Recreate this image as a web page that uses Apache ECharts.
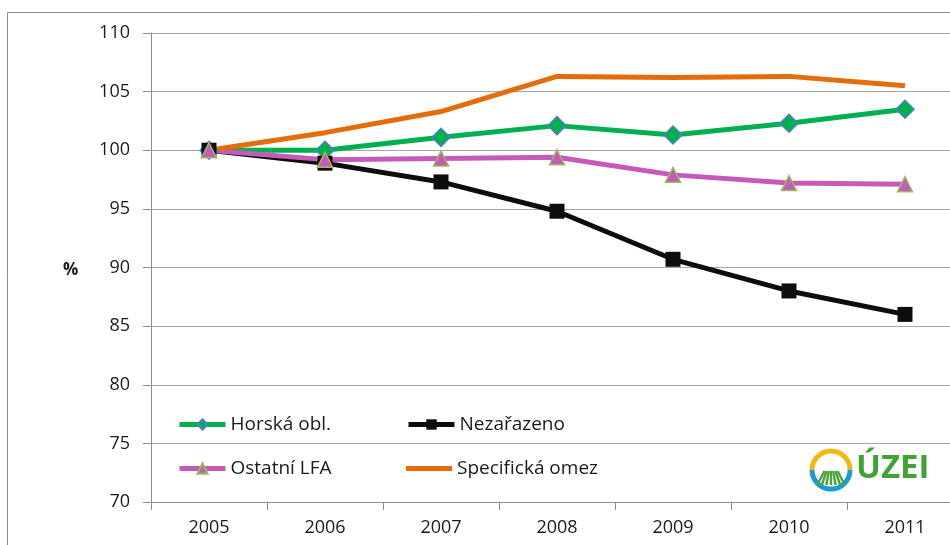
<!DOCTYPE html>
<html>
<head>
<meta charset="utf-8">
<script src="https://cdn.jsdelivr.net/npm/echarts@6/dist/echarts.min.js"></script>
<style>
  html, body { margin: 0; padding: 0; background: #fff; }
  #chart { width: 950px; height: 545px; }
</style>
</head>
<body>
<div id="chart"></div>
<script>
// data
const years = ['2005', '2006', '2007', '2008', '2009', '2010', '2011'];
const horska = [100, 100.0, 101.1, 102.1, 101.3, 102.3, 103.5];
const nezarazeno = [100, 98.9, 97.3, 94.8, 90.7, 88.0, 86.0];
const ostatniLfa = [100, 99.2, 99.3, 99.4, 97.9, 97.2, 97.1];
const specificka = [100, 101.5, 103.3, 106.3, 106.2, 106.3, 105.5];
const yTicks = { min: 70, max: 110, step: 5 };

const FONT = '"Open Sans", "Noto Sans", sans-serif';
const chart = echarts.init(document.getElementById('chart'));

const legendText = { color: '#1a1a1a', fontSize: 19, fontFamily: FONT };

// one legend per item so the two columns line up like the original
function legendAt(name, left, top, extra) {
  return Object.assign({
    data: [name],
    left: left,
    top: top,
    padding: 0,
    itemWidth: 46,
    itemHeight: 13,
    itemGap: 0,
    lineStyle: { width: 5 },
    textStyle: legendText,
    selectedMode: false
  }, extra || {});
}

// little UZEI stamp, drawn as graphics
const cx = 831, cy = 470, r = 19;
const stripes = [];
for (let i = -3; i <= 3; i++) {
  stripes.push({
    type: 'line',
    shape: { x1: cx + i * 2.2, y1: cy + 1, x2: cx + i * 4.6, y2: cy + 15 },
    style: { stroke: '#4aa63c', lineWidth: 2.4 }
  });
}

const option = {
  animation: false,
  grid: { left: 151, top: 33, width: 812, height: 469, outerBoundsMode: 'none', containLabel: false },
  legend: [
    legendAt('Horská obl.', 177, 415),
    legendAt('Nezařazeno', 406, 415),
    legendAt('Ostatní LFA', 177, 459),
    // plain line, no marker in the middle
    legendAt('Specifická omez', 406, 459, { icon: 'rect', itemHeight: 5 })
  ],
  xAxis: {
    type: 'category',
    data: years,
    boundaryGap: true,
    axisLine: { lineStyle: { color: '#8c8c8c', width: 1 } },
    axisTick: { show: true, length: 8, lineStyle: { color: '#8c8c8c' } },
    axisLabel: { color: '#1a1a1a', fontSize: 18, fontFamily: FONT, margin: 17 }
  },
  yAxis: {
    type: 'value',
    min: yTicks.min,
    max: yTicks.max,
    interval: yTicks.step,
    axisLine: { show: true, lineStyle: { color: '#8c8c8c', width: 1 } },
    axisTick: { show: true, length: 8, lineStyle: { color: '#8c8c8c' } },
    splitLine: { lineStyle: { color: '#a6a6a6', width: 1 } },
    axisLabel: { color: '#1a1a1a', fontSize: 18, fontFamily: FONT, margin: 21 }
  },
  graphic: [
    {
      type: 'rect',
      shape: { x: 7.5, y: 12.5, width: 960, height: 560 },
      style: { fill: 'none', stroke: '#8c8c8c', lineWidth: 1 },
      silent: true
    },
    {
      type: 'text',
      left: 63, top: 262,
      style: { text: '%', fill: '#1a1a1a', font: 'bold 17px ' + FONT }
    },
    {
      type: 'group',
      silent: true,
      children: [
        { type: 'rect', shape: { x: 805, y: 446, width: 130, height: 48 }, style: { fill: '#fff' } },
        { type: 'arc', shape: { cx: cx, cy: cy, r: r, startAngle: Math.PI, endAngle: 2 * Math.PI }, style: { stroke: '#f2b711', lineWidth: 5, fill: 'none' } },
        { type: 'arc', shape: { cx: cx, cy: cy, r: r, startAngle: 0, endAngle: Math.PI }, style: { stroke: '#1e9ad6', lineWidth: 5, fill: 'none' } },
        ...stripes,
        {
          type: 'text',
          x: 856, y: 452,
          style: { text: 'ÚZEI', fill: '#3fa33a', font: 'bold 33px "Open Sans", "DejaVu Sans", sans-serif' }
        }
      ]
    }
  ],
  series: [
    {
      name: 'Horská obl.',
      type: 'line',
      data: horska,
      symbol: 'diamond',
      symbolSize: 18,
      lineStyle: { color: '#00b050', width: 5 },
      itemStyle: { color: '#00b050', borderColor: '#4f81bd', borderWidth: 1.5 }
    },
    {
      name: 'Nezařazeno',
      type: 'line',
      data: nezarazeno,
      symbol: 'rect',
      symbolSize: 15,
      lineStyle: { color: '#0d0d0d', width: 5 },
      itemStyle: { color: '#0d0d0d', borderColor: '#0d0d0d', borderWidth: 0 }
    },
    {
      name: 'Ostatní LFA',
      type: 'line',
      data: ostatniLfa,
      symbol: 'triangle',
      symbolSize: 15,
      lineStyle: { color: '#c55abb', width: 5 },
      itemStyle: { color: '#c55abb', borderColor: '#9bbb59', borderWidth: 1.5 }
    },
    {
      name: 'Specifická omez',
      type: 'line',
      data: specificka,
      symbol: 'none',
      showSymbol: false,
      lineStyle: { color: '#e46c0a', width: 5 },
      itemStyle: { color: '#e46c0a' }
    }
  ]
};

chart.setOption(option);
</script>
</body>
</html>
